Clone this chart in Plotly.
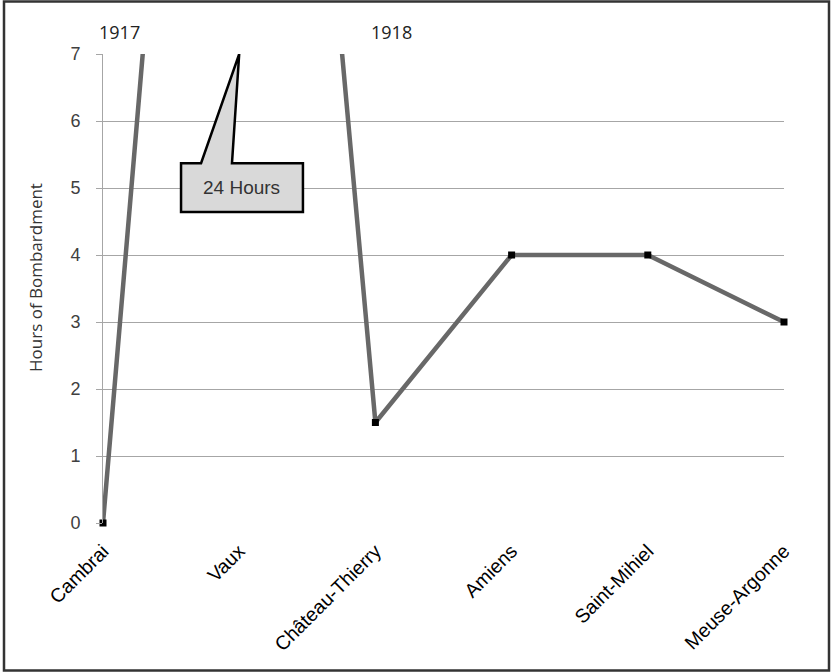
import plotly.graph_objects as go

# Battles and hours of preparatory bombardment
battles = ["Cambrai", "Vaux", "Château-Thierry", "Amiens", "Saint-Mihiel", "Meuse-Argonne"]
hours = [0, 24, 1.5, 4, 4, 3]
y_ticks = [0, 1, 2, 3, 4, 5, 6, 7]
callout_text = "24 Hours"
year_labels = ["1917", "1918"]
year_positions = [0, 2]  # category index each year label sits over
y_title = "Hours of Bombardment"

W, H = 832, 672
L, R, T, B = 103, 48, 54, 149
pw, ph = W - L - R, H - T - B

def px_x(p):  # pixel -> paper x
    return (p - L) / pw

def px_y(p):  # pixel -> paper y
    return (H - B - p) / ph

fig = go.Figure()
fig.add_trace(go.Scatter(
    x=list(range(len(battles))), y=hours, mode="lines+markers",
    line=dict(color="#686868", width=4.5),
    marker=dict(symbol="square", size=7, color="#000000"),
    cliponaxis=False, showlegend=False,
))

# Callout box pointing at the clipped Vaux value
vaux = battles.index("Vaux")
top = max(y_ticks)
bx0, bx1 = vaux - 0.427, vaux + 0.468
by0, by1 = 4.64, 5.37
p0, p1 = vaux - 0.28, vaux - 0.053
path = (f"M {bx0},{by1} L {p0},{by1} L {vaux},{top} L {p1},{by1} "
        f"L {bx1},{by1} L {bx1},{by0} L {bx0},{by0} Z")
fig.add_shape(type="path", path=path, xref="x", yref="y",
              fillcolor="#d9d9d9", line=dict(color="#000000", width=2.5), layer="above")
fig.add_annotation(x=(bx0 + bx1) / 2, y=(by0 + by1) / 2, xref="x", yref="y",
                   text=callout_text, showarrow=False,
                   font=dict(family="Liberation Sans, Arial", size=19, color="#333333"))

for lab, pos in zip(year_labels, year_positions):
    fig.add_annotation(x=pos, y=px_y(32), xref="x", yref="paper", text=lab,
                       showarrow=False, xanchor="left", yanchor="middle",
                       xshift=-6,
                       font=dict(family="Open Sans", size=18, color="#222222"))

# Axis title
fig.add_annotation(x=px_x(35), y=px_y(278), xref="paper", yref="paper",
                   text=y_title, textangle=-90, showarrow=False,
                   xanchor="center", yanchor="middle",
                   font=dict(family="Open Sans", size=17, color="#333333"))

# Outer frame
fig.add_shape(type="rect", xref="paper", yref="paper",
              x0=px_x(4), x1=px_x(829), y0=px_y(670.5), y1=px_y(1.5),
              line=dict(color="#333333", width=2.5), fillcolor="rgba(0,0,0,0)")

fig.update_layout(
    width=W, height=H,
    margin=dict(l=L, r=R, t=T, b=B, pad=0),
    paper_bgcolor="white", plot_bgcolor="white",
    xaxis=dict(
        tickmode="array", tickvals=list(range(len(battles))), ticktext=battles,
        range=[0, len(battles) - 1], tickangle=-45, showgrid=False, zeroline=False,
        showline=False, ticks="", ticklabelstandoff=12,
        tickfont=dict(family="Liberation Sans, Arial", size=19.5, color="#000000"),
    ),
    yaxis=dict(
        range=[0, top], tickvals=y_ticks, showgrid=True, gridcolor="#a6a6a6", gridwidth=1,
        zeroline=False, showline=True, linecolor="#a6a6a6", linewidth=1,
        ticks="outside", ticklen=6, tickcolor="#a6a6a6", ticklabelstandoff=12,
        tickfont=dict(family="Liberation Sans, Arial", size=18, color="#404040"),
    ),
)

fig.write_html("out.html")
